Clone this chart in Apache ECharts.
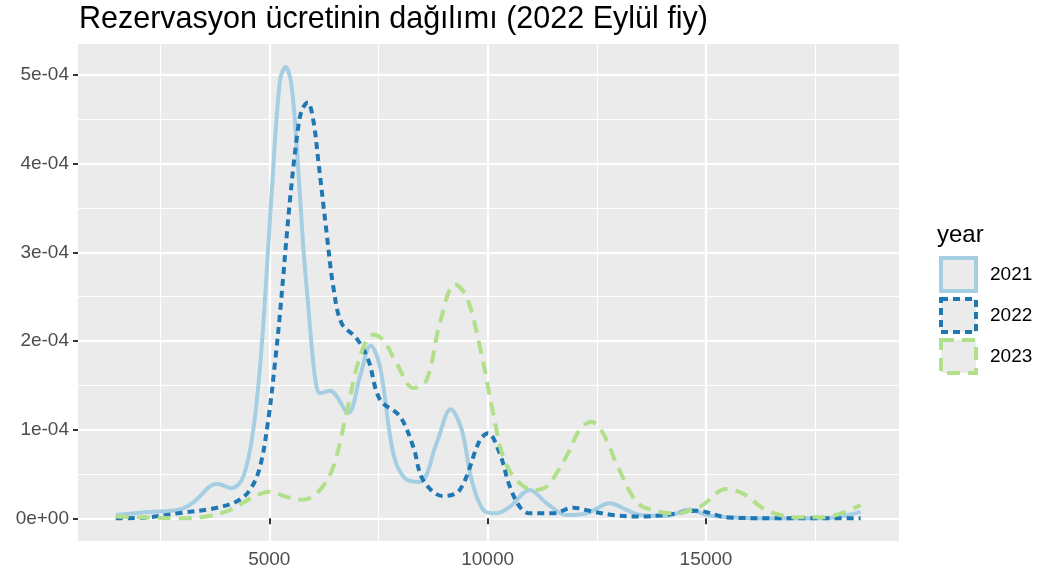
<!DOCTYPE html>
<html>
<head>
<meta charset="utf-8">
<title>Rezervasyon ücretinin dağılımı</title>
<script src="https://cdn.jsdelivr.net/npm/echarts@6/dist/echarts.min.js"></script>
<style>
  html, body { margin: 0; padding: 0; background: #fff; }
  #chart { width: 1037px; height: 574px; }
</style>
</head>
<body>
<div id="chart"></div>
<script>
// --- data (density values are in units of 1e-4) ---
var years = ['2021', '2022', '2023'];

var price2021 = [1485, 2195, 2957, 3261, 3796, 4140, 4405, 4634, 4826, 5055, 5245, 5375, 5513, 5664, 5779, 5893, 6008, 6085, 6160, 6390, 6809, 7077, 7322, 7535, 7840, 8108, 8451, 8833, 9154, 9406, 9635, 9900, 10207, 10511, 10969, 11351, 11809, 12267, 12800, 13182, 13487, 14097, 14630, 15016, 15545, 16300, 17000, 17700, 18100, 18540];
var dens2021 = [0.037, 0.07, 0.10, 0.18, 0.39, 0.34, 0.47, 1.0, 1.94, 3.67, 4.94, 5.09, 4.87, 3.93, 3.06, 2.39, 1.75, 1.48, 1.41, 1.44, 1.19, 1.60, 1.95, 1.71, 0.73, 0.45, 0.41, 0.85, 1.23, 1.0, 0.43, 0.094, 0.056, 0.13, 0.32, 0.17, 0.037, 0.056, 0.17, 0.094, 0.037, 0.026, 0.10, 0.037, 0.011, 0.0, 0.0, 0.0, 0.02, 0.075];

var price2022 = [1485, 2195, 2957, 3719, 4254, 4558, 4787, 4977, 5130, 5245, 5474, 5664, 5760, 5880, 6008, 6121, 6313, 6466, 6656, 6999, 7265, 7533, 7990, 8295, 8524, 8981, 9363, 9821, 10011, 10279, 10507, 10750, 10965, 11498, 11956, 12413, 12871, 13482, 14100, 14780, 15500, 16500, 17500, 18540];
var dens2022 = [0.0, 0.01, 0.06, 0.11, 0.19, 0.32, 0.58, 1.11, 1.75, 2.31, 3.59, 4.42, 4.62, 4.69, 4.49, 4.04, 3.22, 2.61, 2.20, 2.03, 1.79, 1.34, 1.15, 0.81, 0.43, 0.25, 0.32, 0.88, 0.96, 0.73, 0.36, 0.12, 0.056, 0.056, 0.12, 0.075, 0.037, 0.02, 0.04, 0.086, 0.01, 0.0, 0.0, 0.0];

var price2023 = [1485, 2195, 2957, 3567, 4101, 4634, 5016, 5398, 5778, 6160, 6465, 6771, 7075, 7380, 7608, 7915, 8297, 8601, 8906, 9249, 9516, 9821, 10129, 10358, 10665, 11046, 11352, 11805, 12109, 12376, 12642, 12948, 13328, 13557, 14243, 14854, 15465, 15845, 16380, 17067, 17676, 18540];
var dens2023 = [0.02, 0.01, 0.0, 0.02, 0.094, 0.24, 0.30, 0.24, 0.21, 0.32, 0.58, 1.19, 1.82, 2.07, 2.01, 1.75, 1.47, 1.56, 2.20, 2.64, 2.50, 1.94, 1.18, 0.69, 0.43, 0.32, 0.36, 0.70, 1.0, 1.09, 0.96, 0.62, 0.24, 0.13, 0.056, 0.13, 0.33, 0.28, 0.094, 0.011, 0.011, 0.15];

var xTicks = [5000, 10000, 15000];
var xMinorTicks = [2500, 7500, 12500, 17500];
var yTicks = [0, 1e-4, 2e-4, 3e-4, 4e-4, 5e-4];
var yMinorTicks = [0.5e-4, 1.5e-4, 2.5e-4, 3.5e-4, 4.5e-4];

var colors = ['#A6CEE3', '#1F78B4', '#B2DF8A'];
var dashes = ['solid', [7, 5], [13, 8]];

var xMin = 620, xMax = 19420;
var yMin = -0.256e-4, yMax = 5.35e-4;

function pairs(xs, ys) {
    var out = [];
    for (var i = 0; i < xs.length; i++) out.push([xs[i], ys[i] * 1e-4]);
    return out;
}

// 1e-04 style labels like ggplot
function sci(v) {
    if (Math.abs(v) < 1e-12) return '0e+00';
    var parts = v.toExponential(0).split('e');
    var e = parseInt(parts[1], 10);
    return parts[0] + 'e' + (e < 0 ? '-' : '+') + String(Math.abs(e)).padStart(2, '0');
}

var chart = echarts.init(document.getElementById('chart'));

var allData = [pairs(price2021, dens2021), pairs(price2022, dens2022), pairs(price2023, dens2023)];

var series = years.map(function (y, i) {
    return {
        name: y,
        type: 'line',
        data: allData[i],
        showSymbol: false,
        smooth: 0.35,
        lineStyle: { color: colors[i], width: 4, type: dashes[i], cap: 'butt', join: 'round' },
        itemStyle: { color: colors[i] },
        z: 3 + i
    };
});

chart.setOption({
    animation: false,
    backgroundColor: '#fff',
    textStyle: { fontFamily: 'Liberation Sans, Arial, sans-serif' },
    title: [{
        text: 'Rezervasyon ücretinin dağılımı (2022 Eylül fiy)',
        left: 74, top: -1,
        textStyle: { fontSize: 30.5, fontWeight: 'normal', color: '#000' }
    }, {
        text: 'year',
        left: 932, top: 218,
        textStyle: { fontSize: 24, fontWeight: 'normal', color: '#000' }
    }],
    legend: {
        orient: 'vertical',
        left: 939, top: 256, padding: 0,
        itemWidth: 35, itemHeight: 33, itemGap: 4,
        textStyle: { fontSize: 19, color: '#000', padding: [0, 0, 0, 9] },
        data: years.map(function (y, i) {
            return {
                name: y,
                icon: 'rect',
                itemStyle: { color: '#EBEBEB', borderColor: colors[i], borderWidth: 4, borderType: dashes[i] }
            };
        })
    },
    grid: {
        left: 78, right: 138, top: 44, bottom: 33,
        show: true, backgroundColor: '#EBEBEB', borderWidth: 0
    },
    xAxis: [{
        type: 'value', min: xMin, max: xMax,
        axisLine: { show: false },
        axisTick: { show: true, customValues: xTicks, length: 6, lineStyle: { color: '#333', width: 2 } },
        axisLabel: { customValues: xTicks, fontSize: 19, color: '#4D4D4D', margin: 9, formatter: function (v) { return String(v); } },
        splitLine: { show: true, lineStyle: { color: '#fff', width: 2.2 } }
    }, {
        type: 'value', min: xMin, max: xMax,
        axisLine: { show: false },
        axisTick: { show: false, customValues: xMinorTicks },
        axisLabel: { show: false },
        splitLine: { show: true, lineStyle: { color: '#fff', width: 1.1 } }
    }],
    yAxis: [{
        type: 'value', min: yMin, max: yMax,
        axisLine: { show: false },
        axisTick: { show: true, customValues: yTicks, length: 5, lineStyle: { color: '#333', width: 2 } },
        axisLabel: { customValues: yTicks, fontSize: 19, color: '#4D4D4D', margin: 9, formatter: sci },
        splitLine: { show: true, lineStyle: { color: '#fff', width: 2.2 } }
    }, {
        type: 'value', min: yMin, max: yMax,
        axisLine: { show: false },
        axisTick: { show: false, customValues: yMinorTicks },
        axisLabel: { show: false },
        splitLine: { show: true, lineStyle: { color: '#fff', width: 1.1 } }
    }],
    series: series
});
</script>
</body>
</html>
